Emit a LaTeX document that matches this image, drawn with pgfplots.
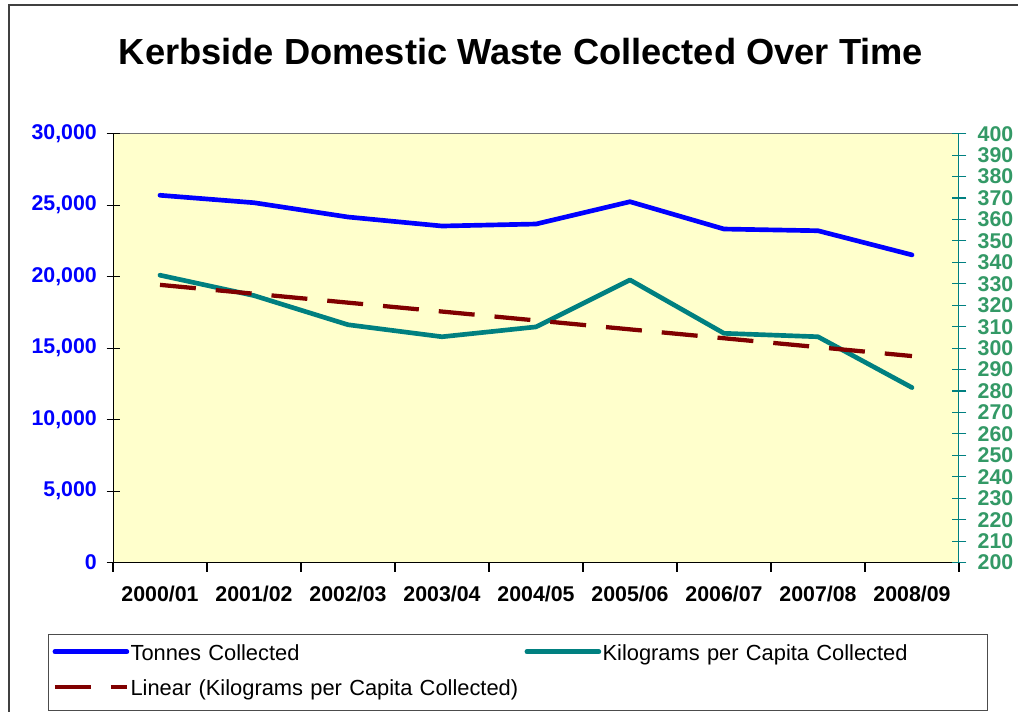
\documentclass[border=0pt]{standalone}
\usepackage{fontspec}
\setmainfont{Liberation Sans}
\usepackage{pgfplots}
\pgfplotsset{compat=1.18}
\definecolor{bgyellow}{RGB}{255,255,204}
\definecolor{tealline}{RGB}{0,128,128}
\definecolor{trendred}{RGB}{128,0,0}
\definecolor{seagreen}{RGB}{51,153,102}
\begin{document}
\begin{tikzpicture}
\path[use as bounding box] (0pt,0pt) rectangle (763.5pt,534pt);
\fill[white] (0pt,0pt) rectangle (763.5pt,534pt);
\draw[line width=1.1pt, black!75] (6.75pt,-5pt) -- (6.75pt,530.25pt) -- (770pt,530.25pt);
\node[anchor=base, font=\fontsize{27.2}{32}\selectfont\bfseries] at (390.75pt,485.25pt) {Kerbside Domestic Waste Collected Over Time};

\pgfplotsset{myaxis/.style={at={(84.75pt,112.05pt)}, anchor=south west, scale only axis,
  width=634.5pt, height=321.7pt, xmin=-0.5, xmax=8.5,
  axis line style={draw=none},
  /pgf/number format/assume math mode=true}}

% x axis and background
\begin{axis}[myaxis, ymin=0, ymax=30000,
  axis background/.style={fill=bgyellow},
  ytick=\empty,
  xtick={0,...,8}, xtick pos=bottom,
  xticklabels={2000/01,2001/02,2002/03,2003/04,2004/05,2005/06,2006/07,2007/08,2008/09},
  minor xtick={-0.5,0.5,...,8.5},
  tick align=outside, major tick length=0pt, minor tick length=7pt,
  minor tick style={black, line width=0.8pt},
  xticklabel style={font=\fontsize{16}{19}\selectfont\bfseries, yshift=-13.75pt},
]
\draw[black!55, line width=1pt] (rel axis cs:0,1) -- (rel axis cs:1,1);
\draw[black, line width=1pt] (rel axis cs:0,0) -- (rel axis cs:1,0);
\end{axis}

% left axis, tonnes
\begin{axis}[myaxis, ymin=0, ymax=30000,
  xtick=\empty, ytick pos=left,
  ytick={0,5000,...,30000}, scaled y ticks=false,
  tick align=center, major tick length=9.75pt,
  ytick style={black, line width=0.8pt},
  yticklabel style={font=\fontsize{16}{19}\selectfont\bfseries, text=blue, xshift=-3.75pt,
    /pgf/number format/1000 sep={,}},
]
\draw[black, line width=1pt] (rel axis cs:0,0) -- (rel axis cs:0,1);
\addplot[blue, line width=3.5pt, line join=round, line cap=round] coordinates {
(0,25690) (1,25170) (2,24170) (3,23540) (4,23680) (5,25240) (6,23330) (7,23210) (8,21520)};
\end{axis}

% right axis, kg per capita
\begin{axis}[myaxis, ymin=200, ymax=400,
  xtick=\empty, ytick pos=right, yticklabel pos=right,
  ytick={200,210,...,400},
  tick align=center, major tick length=11pt,
  ytick style={tealline, line width=0.8pt},
  yticklabel style={font=\fontsize{16}{19}\selectfont\bfseries, text=seagreen, xshift=5pt},
  legend columns=2, legend cell align=left,
  legend image code/.code={\draw[#1] (0pt,2.4pt) -- (54pt,2.4pt);},
  legend style={at={(axis description cs:-0.0768,-0.1665)}, anchor=north west,
    draw=black!70, line width=0.8pt, fill=white,
    inner xsep=3pt, inner ysep=8pt,
    font=\fontsize{16.4}{19}\selectfont,
    nodes={inner sep=0pt, text height=11.5pt, text depth=3pt, text width=285.75pt},
    row sep=12pt,
    /tikz/every odd column/.append style={column sep=1pt},
    /tikz/every even column/.append style={column sep=9.75pt}},
]
\draw[tealline, line width=1pt] (rel axis cs:1,0) -- (rel axis cs:1,1);
\addlegendimage{blue, line width=3.5pt, line cap=round}
\addlegendentry{\mbox{Tonnes Collected}}
\addplot[tealline, line width=3.5pt, line join=round, line cap=round] coordinates {
(0,334.0) (1,324.5) (2,310.9) (3,305.3) (4,309.9) (5,331.8) (6,306.9) (7,305.3) (8,281.6)};
\addlegendentry{\mbox{Kilograms per Capita Collected}}
\addplot[trendred, line width=3.2pt, dash pattern=on 27pt off 15pt] coordinates {
(0,329.5) (8,296.3)};
\addlegendentry{\mbox{Linear (Kilograms per Capita Collected)}}
\end{axis}
\end{tikzpicture}
\end{document}
